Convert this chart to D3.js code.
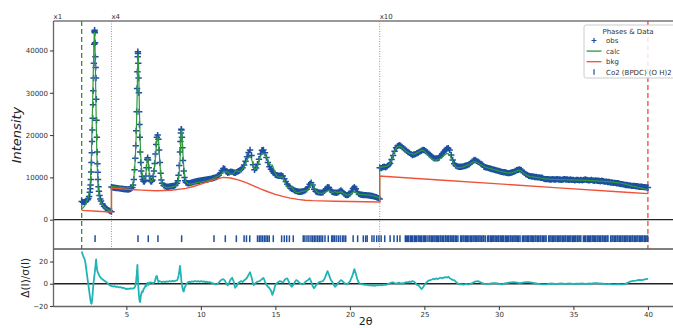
<!DOCTYPE html>
<html>
<head>
<meta charset="utf-8">
<script src="https://cdn.jsdelivr.net/npm/d3@7"></script>
<style>
  html, body { margin: 0; padding: 0; background: #fff; }
  svg { display: block; font-family: "DejaVu Sans", sans-serif; }
</style>
</head>
<body>
<div id="chart"></div>
<script>
// Plotted (already scaled) intensities, one block per scale region

// x1 region, 2-4 deg
const tthLow = [
  2.0, 2.1, 2.2, 2.3, 2.4, 2.45, 2.5, 2.55, 2.58, 2.6,
  2.62, 2.64, 2.66, 2.68, 2.7, 2.72, 2.74, 2.76, 2.78, 2.8,
  2.82, 2.84, 2.86, 2.87, 2.88, 2.9, 2.92, 2.94, 2.96, 2.98,
  3.0, 3.02, 3.04, 3.06, 3.08, 3.1, 3.13, 3.16, 3.2, 3.25,
  3.3, 3.4, 3.5, 3.6, 3.7, 3.8, 3.9, 4.0
];
const obsLow = [
  4300, 4150, 4200, 4350, 4700, 5000, 5500, 6500, 7300, 8200,
  9500, 11300, 13500, 15800, 18500, 21200, 24000, 27200, 30500, 33500,
  37000, 41500, 44500, 44800, 44200, 41800, 38500, 36000, 33500, 28500,
  23500, 19500, 16000, 13200, 11200, 9500, 7800, 6700, 5700, 4900,
  4400, 3700, 3200, 2800, 2500, 2250, 2050, 1900
];
const calcLow = [
  2600, 2800, 3250, 3900, 4900, 5500, 6300, 7700, 8900, 9900,
  11500, 13500, 16000, 18800, 21800, 25000, 28300, 31500, 34800, 38000,
  41000, 43300, 44300, 44200, 43500, 40500, 36000, 31500, 27000, 22800,
  19000, 15800, 13200, 11100, 9500, 8200, 6900, 6000, 5200, 4550,
  4100, 3500, 3050, 2700, 2450, 2250, 2100, 1950
];

// x4 region, 4-22 deg
const tthMid = [
  4.0, 4.1, 4.2, 4.3, 4.4, 4.5, 4.6, 4.7, 4.8, 4.9,
  5.0, 5.1, 5.2, 5.3, 5.4, 5.45, 5.5, 5.55, 5.6, 5.63,
  5.66, 5.69, 5.72, 5.74, 5.76, 5.77, 5.78, 5.8, 5.82, 5.84,
  5.86, 5.88, 5.9, 5.93, 5.96, 6.0, 6.05, 6.1, 6.15, 6.2,
  6.25, 6.3, 6.35, 6.4, 6.43, 6.46, 6.5, 6.55, 6.6, 6.65,
  6.7, 6.75, 6.8, 6.85, 6.9, 6.95, 7.0, 7.05, 7.1, 7.15,
  7.2, 7.25, 7.3, 7.35, 7.4, 7.5, 7.6, 7.7, 7.8, 7.9,
  8.0, 8.1, 8.2, 8.3, 8.4, 8.45, 8.5, 8.55, 8.6, 8.63,
  8.66, 8.68, 8.7, 8.73, 8.76, 8.8, 8.85, 8.9, 8.95, 9.0,
  9.1, 9.2, 9.3, 9.4, 9.5, 9.6, 9.7, 9.8, 9.9, 10.0,
  10.1, 10.2, 10.3, 10.4, 10.5, 10.6, 10.7, 10.8, 10.9, 11.0,
  11.1, 11.2, 11.3, 11.4, 11.5, 11.6, 11.7, 11.8, 11.9, 12.0,
  12.1, 12.2, 12.3, 12.4, 12.5, 12.6, 12.7, 12.8, 12.9, 13.0,
  13.1, 13.2, 13.3, 13.4, 13.5, 13.6, 13.7, 13.8, 13.9, 14.0,
  14.1, 14.2, 14.3, 14.4, 14.5, 14.6, 14.7, 14.8, 14.9, 15.0,
  15.1, 15.2, 15.3, 15.4, 15.5, 15.6, 15.7, 15.8, 15.9, 16.0,
  16.1, 16.2, 16.3, 16.4, 16.5, 16.6, 16.7, 16.8, 16.9, 17.0,
  17.1, 17.2, 17.3, 17.4, 17.5, 17.6, 17.7, 17.8, 17.9, 18.0,
  18.1, 18.2, 18.3, 18.4, 18.5, 18.6, 18.7, 18.8, 18.9, 19.0,
  19.1, 19.2, 19.3, 19.4, 19.5, 19.6, 19.7, 19.8, 19.9, 20.0,
  20.1, 20.2, 20.3, 20.4, 20.5, 20.6, 20.7, 20.8, 20.9, 21.0,
  21.1, 21.2, 21.3, 21.4, 21.5, 21.6, 21.7, 21.8, 21.9, 22.0
];
const obsMid = [
  7700, 7600, 7550, 7500, 7450, 7400, 7350, 7300, 7250, 7200,
  7200, 7150, 7200, 7300, 7600, 8200, 9500, 11800, 14500, 17500,
  21000, 25500, 31000, 35000, 38500, 39700, 39300, 37000, 33500, 30000,
  25500, 22500, 19500, 16000, 13500, 11500, 10200, 9500, 9100, 9000,
  9300, 10300, 12300, 14200, 14650, 14100, 12300, 10300, 9300, 9000,
  9100, 9400, 10200, 11500, 13300, 15500, 17800, 19500, 20000, 19000,
  16500, 13500, 11000, 9400, 8600, 8100, 7900, 7800, 7800, 7850,
  7900, 7950, 8000, 8200, 8600, 9200, 10500, 12800, 16000, 18500,
  20500, 21400, 21200, 19500, 17000, 14000, 11500, 10000, 9200, 8800,
  8600, 8600, 8700, 8800, 8900, 9000, 9100, 9150, 9200, 9300,
  9350, 9400, 9450, 9500, 9550, 9650, 9700, 9800, 9900, 10000,
  10200, 10500, 11000, 11600, 12100, 12000, 11400, 11100, 11200, 11350,
  11300, 11150, 11100, 11250, 11450, 11600, 11900, 12300, 12900, 13800,
  14900, 15900, 16500, 15200, 13000, 11800, 12200, 13100, 14300, 15500,
  16400, 16500, 15800, 14700, 13500, 12500, 11900, 11500, 11000, 10600,
  10500, 10400, 10400, 10450, 10300, 9700, 9000, 8400, 7900, 7500,
  7300, 7100, 6900, 6750, 6650, 6600, 6600, 6650, 6750, 6950,
  7200, 7700, 8400, 8750, 8200, 7200, 6700, 6550, 6450, 6400,
  6400, 6500, 6800, 7300, 7700, 7600, 7000, 6600, 6450, 6400,
  6350, 6450, 6700, 6900, 6600, 6200, 5900, 5800, 5900, 6200,
  6700, 7400, 7700, 7300, 6500, 6100, 5950, 5900, 5850, 5800,
  5800, 5750, 5700, 5650, 5600, 5500, 5400, 5300, 5100, 4900
];
const calcMid = [
  7900, 7850, 7800, 7780, 7730, 7700, 7650, 7620, 7580, 7550,
  7560, 7500, 7560, 7650, 7950, 8600, 9900, 12000, 14600, 17200,
  20300, 24000, 28500, 32500, 36500, 38300, 39200, 39000, 36500, 33000,
  29000, 25500, 22300, 18500, 15300, 12800, 11200, 10300, 9700, 9500,
  9600, 10500, 12400, 14100, 14600, 14200, 12500, 10400, 9300, 9000,
  9050, 9350, 10100, 11300, 13000, 14800, 16900, 18800, 19700, 18900,
  16300, 13300, 10900, 9300, 8400, 7800, 7700, 7600, 7650, 7650,
  7700, 7750, 7800, 7950, 8300, 8800, 9700, 11400, 14000, 16800,
  19500, 21000, 21300, 20200, 18200, 15300, 12600, 10700, 9500, 8900,
  8550, 8500, 8350, 8450, 8550, 8600, 8750, 8750, 8850, 8900,
  9000, 9050, 9150, 9200, 9300, 9400, 9550, 9700, 9900, 10100,
  10250, 10350, 10550, 10900, 11300, 11400, 11300, 11300, 11000, 10800,
  10750, 10900, 11500, 11550, 11400, 11400, 11600, 12100, 12500, 13200,
  14100, 14700, 14900, 14400, 13000, 11900, 12000, 12700, 13900, 15000,
  15700, 15700, 15500, 14900, 14000, 13200, 12900, 12900, 11900, 10800,
  10400, 10150, 10000, 10100, 10100, 9200, 8300, 7700, 7600, 7700,
  7700, 7250, 6750, 6450, 6400, 6450, 6600, 6700, 6750, 6800,
  6900, 7200, 7600, 8500, 8500, 7800, 7000, 6550, 6350, 6250,
  6220, 6280, 6400, 6600, 6800, 6950, 6650, 6450, 6500, 6650,
  6500, 6400, 6500, 6600, 6400, 6100, 5900, 5850, 5850, 6000,
  6200, 6500, 6500, 6500, 6300, 6050, 5950, 5950, 5900, 5880,
  5870, 5830, 5800, 5750, 5700, 5600, 5500, 5400, 5200, 5000
];

// x10 region, 22-40 deg
const tthHigh = [
  22.0, 22.1, 22.2, 22.3, 22.4, 22.5, 22.6, 22.7, 22.8, 22.9,
  23.0, 23.1, 23.2, 23.3, 23.4, 23.5, 23.6, 23.7, 23.8, 23.9,
  24.0, 24.1, 24.2, 24.3, 24.4, 24.5, 24.6, 24.7, 24.8, 24.9,
  25.0, 25.1, 25.2, 25.3, 25.4, 25.5, 25.6, 25.7, 25.8, 25.9,
  26.0, 26.1, 26.2, 26.3, 26.4, 26.5, 26.6, 26.7, 26.8, 26.9,
  27.0, 27.1, 27.2, 27.3, 27.4, 27.5, 27.6, 27.7, 27.8, 27.9,
  28.0, 28.1, 28.2, 28.3, 28.4, 28.5, 28.6, 28.7, 28.8, 28.9,
  29.0, 29.1, 29.2, 29.3, 29.4, 29.5, 29.6, 29.7, 29.8, 29.9,
  30.0, 30.1, 30.2, 30.3, 30.4, 30.5, 30.6, 30.7, 30.8, 30.9,
  31.0, 31.1, 31.2, 31.3, 31.4, 31.5, 31.6, 31.7, 31.8, 31.9,
  32.0, 32.1, 32.2, 32.3, 32.4, 32.5, 32.6, 32.7, 32.8, 32.9,
  33.0, 33.1, 33.2, 33.3, 33.4, 33.5, 33.6, 33.7, 33.8, 33.9,
  34.0, 34.1, 34.2, 34.3, 34.4, 34.5, 34.6, 34.7, 34.8, 34.9,
  35.0, 35.1, 35.2, 35.3, 35.4, 35.5, 35.6, 35.7, 35.8, 35.9,
  36.0, 36.1, 36.2, 36.3, 36.4, 36.5, 36.6, 36.7, 36.8, 36.9,
  37.0, 37.1, 37.2, 37.3, 37.4, 37.5, 37.6, 37.7, 37.8, 37.9,
  38.0, 38.1, 38.2, 38.3, 38.4, 38.5, 38.6, 38.7, 38.8, 38.9,
  39.0, 39.1, 39.2, 39.3, 39.4, 39.5, 39.6, 39.7, 39.8, 39.9,
  40.0
];
const obsHigh = [
  12300, 12200, 12400, 12500, 12400, 12600, 12900, 13300, 14200, 15200,
  16200, 17000, 17400, 17600, 17500, 17200, 16900, 16600, 16300, 16000,
  15800, 15500, 15300, 15400, 15500, 15700, 15900, 16100, 16300, 16500,
  16400, 16200, 15900, 15600, 15300, 14900, 14600, 14500, 14500, 14500,
  14700, 15100, 15600, 16000, 16500, 16800, 16900, 16500, 15300, 14100,
  13200, 12800, 12600, 12500, 12500, 12500, 12600, 12700, 12800, 12900,
  13100, 13400, 13700, 14000, 14100, 13900, 13700, 13500, 13200, 13000,
  12500, 12400, 12300, 12200, 12100, 12000, 11900, 11800, 11700, 11600,
  11500, 11400, 11300, 11200, 11200, 11100, 11000, 11000, 11100, 11200,
  11300, 11500, 11700, 11800, 11900, 11700, 11400, 11100, 10800, 10600,
  10400, 10300, 10200, 10200, 10100, 10100, 10000, 10000, 9900, 9900,
  9700, 9600, 9600, 9600, 9500, 9500, 9600, 9500, 9500, 9600,
  9500, 9500, 9400, 9500, 9600, 9500, 9500, 9400, 9500, 9400,
  9400, 9300, 9400, 9400, 9300, 9400, 9300, 9400, 9500, 9400,
  9300, 9300, 9400, 9300, 9200, 9300, 9200, 9200, 9100, 9200,
  9100, 9000, 9000, 8900, 8900, 8800, 8800, 8700, 8700, 8600,
  8600, 8500, 8400, 8400, 8300, 8200, 8200, 8100, 8100, 8000,
  8000, 8000, 7900, 7900, 7800, 7800, 7800, 7700, 7700, 7600,
  7600
];
const calcHigh = [
  12500, 12450, 12500, 12550, 12600, 12700, 12900, 13300, 14100, 15100,
  16100, 16900, 17300, 17400, 17300, 17000, 16700, 16400, 16100, 15900,
  15700, 15600, 15500, 15500, 15600, 15800, 16000, 16200, 16400, 16400,
  16200, 15800, 15400, 15000, 14700, 14400, 14200, 14100, 14100, 14200,
  14300, 14500, 14800, 15100, 15400, 15600, 15600, 15300, 14600, 13800,
  13000, 12500, 12300, 12300, 12300, 12400, 12500, 12600, 12800, 12900,
  13100, 13300, 13500, 13700, 13700, 13600, 13400, 13200, 13000, 12800,
  12600, 12400, 12300, 12200, 12100, 12000, 11900, 11800, 11700, 11600,
  11500, 11450, 11350, 11250, 11200, 11100, 11050, 11000, 11050, 11150,
  11250, 11400, 11550, 11650, 11650, 11500, 11250, 10950, 10650, 10450,
  10300, 10200, 10150, 10100, 10050, 10000, 9950, 9900, 9850, 9800,
  9660, 9640, 9610, 9600, 9560, 9540, 9550, 9510, 9500, 9490,
  9480, 9470, 9450, 9450, 9460, 9440, 9430, 9410, 9410, 9400,
  9390, 9370, 9370, 9360, 9340, 9340, 9330, 9310, 9310, 9290,
  9280, 9250, 9240, 9220, 9190, 9180, 9160, 9130, 9120, 9100,
  9070, 9040, 9000, 8980, 8940, 8920, 8880, 8840, 8790, 8760,
  8720, 8670, 8620, 8560, 8480, 8400, 8300, 8200, 8100, 8000,
  7900, 7820, 7740, 7660, 7580, 7500, 7420, 7340, 7260, 7180,
  7100
];

// refined background, same scaling
const tthBkg = [
  2.0, 3.0, 4.0, 4.0, 5.0, 6.0, 7.0, 8.0, 9.0, 9.5,
  10.0, 10.5, 11.0, 11.5, 12.0, 12.5, 13.0, 13.5, 14.0, 14.5,
  15.0, 15.5, 16.0, 16.5, 17.0, 17.5, 18.0, 19.0, 20.0, 21.0,
  22.0, 22.0, 26.0, 30.0, 34.0, 38.0, 40.0
];
const bkg = [
  2200, 2000, 1800, 7500, 7200, 7000, 6850, 6950, 7400, 7850,
  8400, 9000, 9600, 10000, 9850, 9400, 8800, 8050, 7300, 6600,
  6000, 5500, 5100, 4800, 4600, 4500, 4450, 4350, 4300, 4250,
  4200, 10300, 9380, 8460, 7530, 6610, 6150
];

// difference curve, (obs - calc)/esd
const tthDiff = [
  2.0, 2.05, 2.1, 2.15, 2.2, 2.25, 2.3, 2.35, 2.4, 2.45,
  2.5, 2.55, 2.6, 2.63, 2.66, 2.69, 2.72, 2.76, 2.8, 2.84,
  2.88, 2.92, 2.95, 2.97, 3.0, 3.04, 3.08, 3.12, 3.16, 3.2,
  3.25, 3.3, 3.35, 3.4, 3.5, 3.6, 3.7, 3.8, 3.9, 4.0,
  4.1, 4.2, 4.3, 4.4, 4.5, 4.6, 4.7, 4.8, 4.9, 5.0,
  5.1, 5.2, 5.3, 5.4, 5.5, 5.55, 5.6, 5.65, 5.7, 5.74,
  5.77, 5.8, 5.84, 5.88, 5.92, 5.96, 6.0, 6.05, 6.1, 6.15,
  6.2, 6.25, 6.3, 6.35, 6.4, 6.45, 6.5, 6.55, 6.6, 6.7,
  6.8, 6.9, 6.95, 7.0, 7.05, 7.1, 7.15, 7.2, 7.3, 7.4,
  7.5, 7.6, 7.7, 7.8, 7.9, 8.0, 8.1, 8.2, 8.3, 8.4,
  8.45, 8.5, 8.55, 8.6, 8.65, 8.7, 8.75, 8.8, 8.85, 8.9,
  9.0, 9.1, 9.2, 9.3, 9.4, 9.5, 9.6, 9.7, 9.8, 9.9,
  10.0, 10.1, 10.2, 10.3, 10.4, 10.5, 10.6, 10.7, 10.8, 10.9,
  11.0, 11.1, 11.2, 11.3, 11.4, 11.5, 11.6, 11.7, 11.8, 11.9,
  12.0, 12.1, 12.2, 12.3, 12.4, 12.5, 12.6, 12.7, 12.8, 12.9,
  13.0, 13.1, 13.2, 13.3, 13.4, 13.5, 13.55, 13.6, 13.7, 13.8,
  13.9, 14.0, 14.1, 14.2, 14.3, 14.4, 14.5, 14.6, 14.7, 14.8,
  14.9, 15.0, 15.1, 15.2, 15.3, 15.4, 15.5, 15.6, 15.7, 15.8,
  15.9, 16.0, 16.1, 16.2, 16.3, 16.4, 16.5, 16.6, 16.7, 16.8,
  16.9, 17.0, 17.1, 17.2, 17.3, 17.4, 17.5, 17.6, 17.7, 17.8,
  17.9, 18.0, 18.1, 18.2, 18.3, 18.4, 18.5, 18.6, 18.7, 18.8,
  18.9, 19.0, 19.1, 19.2, 19.3, 19.4, 19.5, 19.6, 19.7, 19.8,
  19.9, 20.0, 20.1, 20.2, 20.3, 20.4, 20.5, 20.6, 20.7, 20.8,
  20.9, 21.0, 21.1, 21.2, 21.3, 21.4, 21.5, 21.6, 21.7, 21.8,
  21.9, 22.0, 22.1, 22.2, 22.3, 22.4, 22.5, 22.6, 22.7, 22.8,
  22.9, 23.0, 23.1, 23.2, 23.3, 23.4, 23.5, 23.6, 23.7, 23.8,
  23.9, 24.0, 24.1, 24.2, 24.3, 24.4, 24.5, 24.6, 24.7, 24.8,
  24.9, 25.0, 25.1, 25.2, 25.3, 25.4, 25.5, 25.6, 25.7, 25.8,
  25.9, 26.0, 26.1, 26.2, 26.3, 26.4, 26.5, 26.6, 26.7, 26.8,
  26.9, 27.0, 27.1, 27.2, 27.3, 27.4, 27.5, 27.6, 27.7, 27.8,
  27.9, 28.0, 28.1, 28.2, 28.3, 28.4, 28.5, 28.6, 28.7, 28.8,
  28.9, 29.0, 29.2, 29.4, 29.6, 29.8, 30.0, 30.2, 30.4, 30.6,
  30.8, 31.0, 31.2, 31.4, 31.6, 31.8, 32.0, 32.2, 32.4, 32.6,
  32.8, 33.0, 33.2, 33.4, 33.6, 33.8, 34.0, 34.2, 34.4, 34.6,
  34.8, 35.0, 35.2, 35.4, 35.6, 35.8, 36.0, 36.2, 36.4, 36.6,
  36.8, 37.0, 37.2, 37.4, 37.6, 37.8, 38.0, 38.2, 38.4, 38.6,
  38.8, 39.0, 39.2, 39.4, 39.6, 39.8, 40.0
];
const diff = [
  29, 27, 25, 23.5, 22, 19, 14, 9, 4, -1,
  -6, -11, -15.5, -17.5, -18, -16, -12, -5, 1, 6,
  10, 15, 20, 22, 17, 12, 10.5, 9, 8, 7,
  6, 5, 4.5, 4, 3, 2, 1, -0.5, -1.5, -2,
  -2.5, -2.2, -2.8, -2.6, -3.2, -3, -3.6, -3.8, -4.2, -4.8,
  -4.3, -4.6, -4.2, -4.5, -4, -3.5, -2, 2, 9, 17,
  8, -2, -10, -15, -16.5, -12, -9, -7, -7.5, -5,
  -4, -3, -1, -2, 0.5, 1, -1, 0.5, 1.3, 1,
  0.5, 1.5, 4, 6.5, 7, 4, 1.5, 2.5, 2, 1.5,
  2, 1.5, 2.2, 1.8, 2.5, 2, 2.6, 2.2, 2.8, 3,
  4.5, 7, 11, 16, 9, 2, -2.5, -6, -7, -4,
  -1, 1, 1.8, 1.5, 2.2, 1.8, 2.5, 2, 2.4, 1.8,
  2.4, 1.9, 2.2, 1.5, 1.8, 1.2, 1.4, 0.8, 0.5, 0,
  -0.6, -0.3, 1, 2.5, 3.8, 4.2, 3, 0.5, -1.5, 1,
  4, 5.4, 2, -3.6, -2, 0.5, 1.5, 2.4, 1.5, 3,
  4, 5.5, 8, 10.3, 6, 0, -1.2, -0.5, 1, 2,
  2.2, 3, 4.2, 5.2, 2, -1, -2.7, -4, -6, -10,
  -6, -1, 0.5, 1.5, 2.4, 2, 1, 3, 4.5, 4.9,
  2, -1, -2.7, -1, 1.5, 3.3, 2.5, 1, 0, -0.5,
  0, 1.5, 2.5, 3.5, 4.9, 2, -2, -4.1, -2, 0,
  1, 1.8, 2, 2.5, 4.5, 8, 11.4, 8, 4, 2,
  -0.5, -2.7, -1.5, 0.5, 2, 3.3, 2.4, 1, 0, -0.5,
  0.5, 2, 5, 8.5, 13.2, 9, 4, 1, 0, -0.5,
  -0.5, -1, -0.8, -1.2, -1.5, -1.2, -1.8, -1.5, -1.8, -1.2,
  -1.5, -1, -1.5, -1.2, -0.8, -1, -0.5, 0, 0.5, 1,
  1.3, 0.5, 0, 0.5, 1, 0.2, 0.5, 0.4, 1, 1.5,
  1.2, 2, 1.5, 2.4, 2, 0.5, -1, -1.5, -3, -4.8,
  -3.5, -1.2, 0.5, 2, 3, 3.3, 3.8, 4.5, 4, 4.9,
  4.2, 5, 5.4, 4.8, 5.5, 6, 5.5, 6.3, 5, 4.2,
  3.5, 3.3, 2, 0.5, 0, -0.5, -0.3, -0.8, -0.5, -0.2,
  -0.6, -0.5, 0, 0.5, 1.2, 2, 2.2, 2.4, 1.8, 1,
  0.5, 0.2, -0.3, 0.2, 0.5, 0.5, 0, -0.5, 0.3, 0.8,
  1.2, 1.5, 1, 0.5, 1, 1.5, 1.5, 1, 0.5, 0,
  -0.3, -0.5, -0.5, 0, 0.2, -0.2, 0, 0.3, -0.2, 0,
  0.2, -0.2, 0.1, 0, 0.3, -0.2, 0.2, 0, 0.5, 0.5,
  0.2, 0, -0.3, -0.2, -0.5, -0.5, -0.4, -0.6, -0.5, 0.5,
  2, 2.5, 2.8, 3.5, 3.2, 4, 4.5
];

// reflection positions, Co2 (BPDC) (O H)2
const reflections = [
  2.9, 5.78, 6.47, 7.12, 8.71, 10.88, 11.64, 12.38, 12.9, 13.06,
  13.28, 13.8, 13.92, 14.03, 14.14, 14.26, 14.37, 14.48, 14.59, 14.86,
  15.42, 15.6, 15.76, 15.94, 16.2, 16.87, 16.98, 17.12, 17.25, 17.39,
  17.5, 17.61, 17.72, 17.84, 17.95, 18.06, 18.17, 18.33, 18.55, 18.78,
  18.86, 18.95, 19.08, 19.22, 19.35, 19.5, 19.6, 19.72, 20.22, 20.52,
  20.9, 21.06, 21.16, 21.48, 21.62, 21.8, 21.95, 22.1, 22.34, 22.7,
  22.96, 23.18, 23.36, 23.72, 23.79, 23.88, 23.95, 24.06, 24.13, 24.21,
  24.32, 24.39, 24.47, 24.58, 24.65, 24.75, 24.82, 24.93, 25.01, 25.07,
  25.18, 25.31, 25.37, 25.47, 25.54, 25.64, 25.71, 25.8, 25.89, 25.96,
  26.06, 26.12, 26.23, 26.29, 26.4, 26.46, 26.57, 26.63, 26.73, 26.8,
  26.91, 26.97, 27.07, 27.14, 27.25, 27.43, 27.49, 27.59, 27.66, 27.76,
  27.83, 27.91, 27.99, 28.09, 28.16, 28.26, 28.33, 28.41, 28.49, 28.59,
  28.66, 28.74, 28.83, 28.93, 28.99, 29.09, 29.24, 29.32, 29.43, 29.49,
  29.59, 29.66, 29.75, 29.83, 29.93, 29.99, 30.09, 30.17, 30.26, 30.32,
  30.43, 30.5, 30.58, 30.66, 30.76, 30.82, 30.93, 31.01, 31.09, 31.16,
  31.26, 31.33, 31.42, 31.58, 31.66, 31.75, 31.83, 31.93, 31.99, 32.09,
  32.17, 32.26, 32.33, 32.43, 32.49, 32.59, 32.66, 32.76, 32.82, 32.93,
  33.0, 33.09, 33.17, 33.34, 33.42, 33.5, 33.59, 33.66, 33.76, 33.83,
  33.93, 33.99, 34.09, 34.16, 34.26, 34.33, 34.43, 34.49, 34.59, 34.67,
  34.76, 34.83, 34.93, 35.0, 35.09, 35.16, 35.26, 35.32, 35.43, 35.5,
  35.67, 35.76, 35.82, 35.93, 36.0, 36.09, 36.16, 36.26, 36.33, 36.43,
  36.49, 36.59, 36.66, 36.76, 36.83, 36.93, 36.99, 37.09, 37.17, 37.26,
  37.32, 37.5, 37.59, 37.66, 37.76, 37.83, 37.93, 37.99, 38.09, 38.16,
  38.26, 38.33, 38.43, 38.49, 38.59, 38.66, 38.76, 38.83, 38.93, 38.99,
  39.09, 39.16, 39.26, 39.33, 39.43, 39.49, 39.59, 39.66, 39.76, 39.83,
  39.93, 39.99
];

// scale multipliers and where each starts
const scaleStarts = [2, 4, 22];
const scaleLabels = ['x1', 'x4', 'x10'];
const limits = [2, 40];

const yTicksMain = [0, 10000, 20000, 30000, 40000];
const yTicksDiff = [-20, 0, 20];
const xTicks = [5, 10, 15, 20, 25, 30, 35, 40];

const legendItems = ['obs', 'calc', 'bkg', 'Co2 (BPDC) (O H)2'];

function checkLengths(name, a, b) {
  if (a.length !== b.length) throw new Error(`${name}: ${a.length} vs ${b.length}`);
}
checkLengths('low obs', tthLow, obsLow);
checkLengths('low calc', tthLow, calcLow);
checkLengths('mid obs', tthMid, obsMid);
checkLengths('mid calc', tthMid, calcMid);
checkLengths('high obs', tthHigh, obsHigh);
checkLengths('high calc', tthHigh, calcHigh);
checkLengths('bkg', tthBkg, bkg);
checkLengths('diff', tthDiff, diff);

const colorObs = '#1c4fa0';
const colorCalc = '#2f9a3a';
const colorBkg = '#ef5238';
const colorDiff = '#22b4b4';
const colorRefl = '#1f4e9e';
const colorText = '#333';

const width = 673, height = 328;
const plotLeft = 53.5, plotRight = 677.7;
const mainTop = 21, mainBottom = 249, diffBottom = 306.5;

const x = d3.scaleLinear().domain([0.11, 42]).range([plotLeft, plotRight]);
const yMain = d3.scaleLinear().domain([-6930, 46970]).range([mainBottom, mainTop]);
const yDiff = d3.scaleLinear().domain([-20.5, 31.3]).range([diffBottom, mainBottom]);

const tth = tthLow.concat(tthMid, tthHigh);
const obs = obsLow.concat(obsMid, obsHigh);
const calc = calcLow.concat(calcMid, calcHigh);
const points = tth.map((t, i) => ({ t, obs: obs[i], calc: calc[i] }));

const svg = d3.select('#chart')
  .append('svg')
  .attr('width', width)
  .attr('height', height);

// Vertical markers: limits (dashed) and scale breaks (dotted)
svg.append('line')
  .attr('x1', x(limits[0])).attr('x2', x(limits[0]))
  .attr('y1', mainTop).attr('y2', mainBottom)
  .attr('stroke', '#3a8c3a').attr('stroke-width', 1.3)
  .attr('stroke-dasharray', '5,3');

svg.append('line')
  .attr('x1', x(limits[1])).attr('x2', x(limits[1]))
  .attr('y1', mainTop).attr('y2', mainBottom)
  .attr('stroke', '#ea4e36').attr('stroke-width', 1.3)
  .attr('stroke-dasharray', '5,3');

svg.selectAll('line.scale-break')
  .data(scaleStarts.slice(1))
  .join('line')
  .attr('class', 'scale-break')
  .attr('x1', d => x(d)).attr('x2', d => x(d))
  .attr('y1', mainTop).attr('y2', mainBottom)
  .attr('stroke', '#999').attr('stroke-width', 1)
  .attr('stroke-dasharray', '1,1.5');

svg.selectAll('text.scale-label')
  .data(scaleStarts)
  .join('text')
  .attr('class', 'scale-label')
  .attr('x', (d, i) => i === 0 ? plotLeft : x(d))
  .attr('y', 18.5)
  .attr('font-size', 7)
  .attr('fill', colorText)
  .text((d, i) => scaleLabels[i]);

// Zero line of the main panel
svg.append('line')
  .attr('x1', plotLeft).attr('x2', plotRight)
  .attr('y1', yMain(0)).attr('y2', yMain(0))
  .attr('stroke', '#222').attr('stroke-width', 1.3);

// Observed points as "+" markers
const m = 3.2;
svg.append('path')
  .attr('d', points.map(d => {
    const px = x(d.t), py = yMain(d.obs);
    return `M${px - m},${py}h${2 * m}M${px},${py - m}v${2 * m}`;
  }).join(''))
  .attr('fill', 'none')
  .attr('stroke', colorObs)
  .attr('stroke-width', 1.5);

// Calculated profile
svg.append('path')
  .datum(points)
  .attr('d', d3.line().x(d => x(d.t)).y(d => yMain(d.calc)))
  .attr('fill', 'none')
  .attr('stroke', colorCalc)
  .attr('stroke-width', 1.2);

// Background
svg.append('path')
  .datum(tthBkg.map((t, i) => [t, bkg[i]]))
  .attr('d', d3.line().x(d => x(d[0])).y(d => yMain(d[1])))
  .attr('fill', 'none')
  .attr('stroke', colorBkg)
  .attr('stroke-width', 1.4);

// Reflection tick marks
svg.selectAll('line.refl')
  .data(reflections)
  .join('line')
  .attr('class', 'refl')
  .attr('x1', d => x(d)).attr('x2', d => x(d))
  .attr('y1', yMain(-3700)).attr('y2', yMain(-5300))
  .attr('stroke', colorRefl)
  .attr('stroke-width', 1.5);

// Difference panel
svg.append('line')
  .attr('x1', plotLeft).attr('x2', plotRight)
  .attr('y1', yDiff(0)).attr('y2', yDiff(0))
  .attr('stroke', '#222').attr('stroke-width', 1.3);

svg.append('path')
  .datum(tthDiff.map((t, i) => [t, diff[i]]))
  .attr('d', d3.line().x(d => x(d[0])).y(d => yDiff(d[1])))
  .attr('fill', 'none')
  .attr('stroke', colorDiff)
  .attr('stroke-width', 1.8)
  .attr('stroke-linejoin', 'round');

// Frames
const frame = svg.append('g').attr('fill', 'none');
frame.append('line')
  .attr('x1', plotLeft).attr('x2', plotRight).attr('y1', mainTop).attr('y2', mainTop)
  .attr('stroke', '#777').attr('stroke-width', 1.3);
frame.append('line')
  .attr('x1', plotLeft).attr('x2', plotRight).attr('y1', mainBottom).attr('y2', mainBottom)
  .attr('stroke', '#555').attr('stroke-width', 1.6);
frame.append('line')
  .attr('x1', plotLeft).attr('x2', plotRight).attr('y1', diffBottom).attr('y2', diffBottom)
  .attr('stroke', '#666').attr('stroke-width', 1.3);
frame.append('line')
  .attr('x1', plotLeft).attr('x2', plotLeft).attr('y1', mainTop).attr('y2', diffBottom)
  .attr('stroke', '#666').attr('stroke-width', 1.3);

// Axes
function styleAxis(g) {
  g.select('.domain').remove();
  g.attr('font-family', '"DejaVu Sans", sans-serif')
    .attr('font-size', 7)
    .style('color', colorText);
}

svg.append('g')
  .attr('transform', `translate(${plotLeft},0)`)
  .call(d3.axisLeft(yMain).tickValues(yTicksMain).tickFormat(d3.format('d')).tickSize(3.5).tickPadding(2))
  .call(styleAxis);

svg.append('g')
  .attr('transform', `translate(${plotLeft},0)`)
  .call(d3.axisLeft(yDiff).tickValues(yTicksDiff).tickFormat(d3.format('d')).tickSize(3.5).tickPadding(2))
  .call(styleAxis);

svg.append('g')
  .attr('transform', `translate(0,${diffBottom})`)
  .call(d3.axisBottom(x).tickValues(xTicks).tickFormat(d3.format('d')).tickSize(3.5).tickPadding(2))
  .call(styleAxis);

// Axis titles
svg.append('text')
  .attr('transform', `translate(21,${(mainTop + mainBottom) / 2}) rotate(-90)`)
  .attr('text-anchor', 'middle')
  .attr('font-size', 13)
  .attr('font-style', 'italic')
  .attr('fill', '#222')
  .text('Intensity');

svg.append('text')
  .attr('transform', `translate(29,${(mainBottom + diffBottom) / 2}) rotate(-90)`)
  .attr('text-anchor', 'middle')
  .attr('font-size', 10.5)
  .attr('fill', '#222')
  .text('Δ(I)/σ(I)');

svg.append('text')
  .attr('x', (plotLeft + plotRight) / 2)
  .attr('y', 324.5)
  .attr('text-anchor', 'middle')
  .attr('font-size', 11)
  .attr('fill', '#222')
  .text('2θ');

// Legend
const legend = svg.append('g').attr('transform', 'translate(584,25)');
legend.append('rect')
  .attr('width', 110).attr('height', 53).attr('rx', 2)
  .attr('fill', '#fff').attr('fill-opacity', 0.85)
  .attr('stroke', '#ccc').attr('stroke-width', 1);
legend.append('text')
  .attr('x', 44).attr('y', 8.5)
  .attr('text-anchor', 'middle')
  .attr('font-size', 7).attr('fill', colorText)
  .text('Phases & Data');

const rows = legend.selectAll('g.entry')
  .data(legendItems)
  .join('g')
  .attr('class', 'entry')
  .attr('transform', (d, i) => `translate(0,${15.5 + i * 10.6})`);

rows.append('text')
  .attr('x', 22).attr('y', 2.5)
  .attr('font-size', 7).attr('fill', colorText)
  .text(d => d);

rows.filter((d, i) => i === 0).append('path')
  .attr('d', `M7.5,0h5M10,-2.5v5`)
  .attr('stroke', colorObs).attr('stroke-width', 1.2);
rows.filter((d, i) => i === 1 || i === 2).append('line')
  .attr('x1', 2.5).attr('x2', 17.5)
  .attr('stroke', (d, i) => i === 0 ? colorCalc : colorBkg)
  .attr('stroke-width', 1.3);
rows.filter((d, i) => i === 3).append('line')
  .attr('x1', 10).attr('x2', 10).attr('y1', -3).attr('y2', 2.5)
  .attr('stroke', colorRefl).attr('stroke-width', 1.2);
</script>
</body>
</html>
